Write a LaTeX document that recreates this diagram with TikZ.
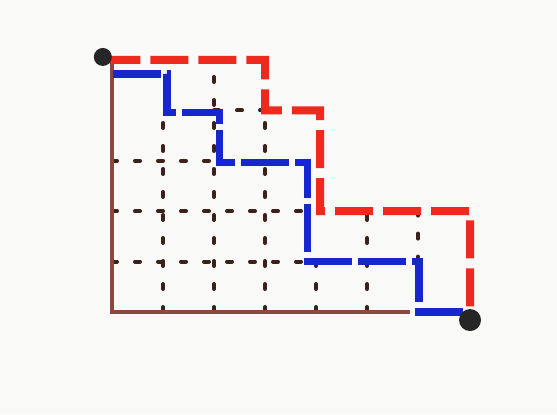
\documentclass[tikz,border=0pt]{standalone}
\usepackage{tikz}
\definecolor{axisbrown}{RGB}{140,72,62}
\definecolor{dotbrown}{RGB}{60,32,26}
\definecolor{penred}{RGB}{238,42,30}
\definecolor{penblue}{RGB}{22,40,205}
\definecolor{board}{RGB}{249,249,247}
\begin{document}
\begin{tikzpicture}[x=25.5pt,y=25.2pt,
    gridline/.style={dotbrown,line width=2pt,line cap=round,dash pattern=on 2.5pt off 9pt},
    redpath/.style={penred,line width=4pt,dash pattern=on 19pt off 5pt},
    bluepath/.style={penblue,line width=3.6pt,dash pattern=on 24pt off 3pt}]
  % board and frame of the picture
  \fill[board] (-2.196,-2.024) rectangle (8.725,6.19);
  \useasboundingbox (-2.196,-2.024) rectangle (8.725,6.19);

  % dotted lattice under the paths
  \foreach \x/\ya/\yb in {1/0/4,2/0/5,3/0/4,4/0/1,5/0/2,6/1/2} {
    \draw[gridline] (\x,\ya) -- (\x,\yb);
  }
  \foreach \y/\xa/\xb in {1/0/3.8,2/0/3.9,3/0/2,4/2/3} {
    \draw[gridline] (\xa,\y) -- (\xb,\y);
  }

  % axes
  \draw[axisbrown,line width=2pt] (0,5) -- (0,0) -- (5.85,0);

  % end points
  \coordinate (start) at (-0.18,5.06);
  \coordinate (finish) at (7.02,-0.16);

  % upper (red) and lower (blue) lattice paths
  \draw[redpath] (start) -- (0,5) -- (3,5) -- (3,4) -- (4.08,4) -- (4.08,2) -- (7.02,2) -- (finish);
  \draw[bluepath] (0.02,4.72) -- (1.08,4.72) -- (1.08,3.95) -- (2.1,3.95) -- (2.1,2.97)
    -- (3.83,2.97) -- (3.83,1) -- (6.02,1) -- (6.02,0) -- (6.9,0);

  \fill[black!85] (start) circle (4.5pt);
  \fill[black!85] (finish) circle (5.5pt);
\end{tikzpicture}
\end{document}
